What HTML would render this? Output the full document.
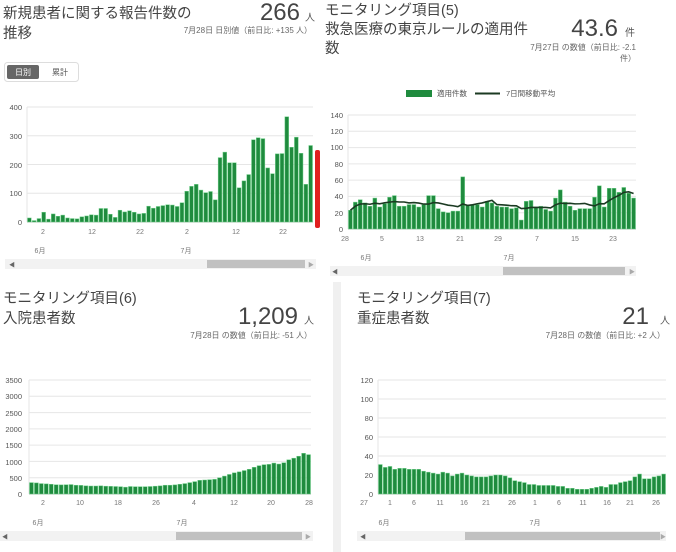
<!DOCTYPE html>
<html><head><meta charset="utf-8"><style>
html,body{margin:0;padding:0;background:#fff;width:676px;height:552px;overflow:hidden}
svg{display:block}
text{font-family:"Liberation Sans","Noto Sans CJK JP",sans-serif}
.t{font-size:14.5px;fill:#444}
.big{font-size:24px;fill:#444}
.u{font-size:10px;fill:#555}
.s{font-size:8px;fill:#666}
.ax{font-size:7.5px;fill:#555}
.xl{font-size:7px;fill:#777}
</style></head><body>
<svg id="s" width="676" height="552" viewBox="0 0 676 552">
<rect x="333" y="282" width="8" height="270" fill="#f0f0f0"/>
<!-- Panel 1 -->
<text class="t" x="3" y="18">新規患者に関する報告件数の</text>
<text class="t" x="3" y="38">推移</text>
<text class="big" x="300" y="20" text-anchor="end">266</text><text class="u" x="305" y="21">人</text>
<text class="s" x="312" y="33" text-anchor="end">7月28日 日別値（前日比: +135 人）</text>
<rect x="4.5" y="62.5" width="74" height="19" rx="3" fill="#fff" stroke="#ddd"/>
<rect x="7" y="65" width="32" height="14" rx="2" fill="#666"/>
<text x="23" y="75" font-size="8" fill="#fff" text-anchor="middle">日別</text>
<text x="60" y="75" font-size="8" fill="#555" text-anchor="middle">累計</text>
<text class="ax" x="22" y="110" text-anchor="end">400</text>
<text class="ax" x="22" y="139" text-anchor="end">300</text>
<text class="ax" x="22" y="168" text-anchor="end">200</text>
<text class="ax" x="22" y="196" text-anchor="end">100</text>
<text class="ax" x="22" y="225" text-anchor="end">0</text>
<g class="xl" text-anchor="middle"><text x="43" y="234">2</text><text x="92" y="234">12</text><text x="140" y="234">22</text><text x="187" y="234">2</text><text x="236" y="234">12</text><text x="283" y="234">22</text></g>
<text class="xl" x="40" y="253" text-anchor="middle">6月</text><text class="xl" x="186" y="253" text-anchor="middle">7月</text>
<rect x="5" y="259" width="311" height="10" fill="#f2f2f2"/><rect x="207" y="260" width="98" height="8" fill="#c1c1c1"/>
<text x="9" y="267" font-size="6" fill="#666">◀</text><text x="308" y="267" font-size="6" fill="#aaa">▶</text>
<rect x="315" y="150" width="5" height="78" rx="2" fill="#e02020"/>
<!-- Panel 2 -->
<text class="t" x="325" y="15">モニタリング項目(5)</text>
<text class="t" x="325" y="34">救急医療の東京ルールの適用件</text>
<text class="t" x="325" y="53">数</text>
<text class="big" x="618" y="36" text-anchor="end">43.6</text><text class="u" x="625" y="36">件</text>
<text class="s" x="636" y="50" text-anchor="end">7月27日 の数値（前日比: -2.1</text>
<text class="s" x="636" y="61" text-anchor="end">件）</text>
<rect x="406" y="90" width="26" height="7" fill="#1f8b3e"/>
<text x="437" y="96" font-size="7.5" fill="#555">適用件数</text>
<line x1="475" y1="93.5" x2="500" y2="93.5" stroke="#1b3a22" stroke-width="2"/>
<text x="506" y="96" font-size="7.5" fill="#555">7日間移動平均</text>
<g class="ax" text-anchor="end"><text x="343" y="118">140</text><text x="343" y="134">120</text><text x="343" y="150">100</text><text x="343" y="167">80</text><text x="343" y="183">60</text><text x="343" y="199">40</text><text x="343" y="216">20</text><text x="343" y="232">0</text></g>
<g class="xl" text-anchor="middle"><text x="345" y="241">28</text><text x="382" y="241">5</text><text x="420" y="241">13</text><text x="460" y="241">21</text><text x="498" y="241">29</text><text x="537" y="241">7</text><text x="575" y="241">15</text><text x="613" y="241">23</text></g>
<text class="xl" x="366" y="260" text-anchor="middle">6月</text><text class="xl" x="509" y="260" text-anchor="middle">7月</text>
<rect x="330" y="266" width="306" height="10" fill="#f2f2f2"/><rect x="503" y="267" width="122" height="8" fill="#c1c1c1"/>
<text x="332" y="274" font-size="6" fill="#666">◀</text><text x="629" y="274" font-size="6" fill="#aaa">▶</text>
<!-- Panel 3 -->
<text class="t" x="3" y="303">モニタリング項目(6)</text>
<text class="t" x="3" y="323">入院患者数</text>
<text class="big" x="298" y="324" text-anchor="end">1,209</text><text class="u" x="304" y="324">人</text>
<text class="s" x="312" y="338" text-anchor="end">7月28日 の数値（前日比: -51 人）</text>
<g class="ax" text-anchor="end"><text x="22" y="383">3500</text><text x="22" y="399">3000</text><text x="22" y="416">2500</text><text x="22" y="432">2000</text><text x="22" y="448">1500</text><text x="22" y="465">1000</text><text x="22" y="481">500</text><text x="22" y="497">0</text></g>
<g class="xl" text-anchor="middle"><text x="43" y="505">2</text><text x="80" y="505">10</text><text x="118" y="505">18</text><text x="156" y="505">26</text><text x="194" y="505">4</text><text x="234" y="505">12</text><text x="271" y="505">20</text><text x="309" y="505">28</text></g>
<text class="xl" x="38" y="525" text-anchor="middle">6月</text><text class="xl" x="182" y="525" text-anchor="middle">7月</text>
<rect x="0" y="531" width="313" height="10" fill="#f2f2f2"/><rect x="176" y="532" width="126" height="8" fill="#c1c1c1"/>
<text x="2" y="539" font-size="6" fill="#666">◀</text><text x="305" y="539" font-size="6" fill="#aaa">▶</text>
<!-- Panel 4 -->
<text class="t" x="357" y="303">モニタリング項目(7)</text>
<text class="t" x="357" y="323">重症患者数</text>
<text class="big" x="649" y="324" text-anchor="end">21</text><text class="u" x="660" y="324">人</text>
<text class="s" x="665" y="338" text-anchor="end">7月28日 の数値（前日比: +2 人）</text>
<g class="ax" text-anchor="end"><text x="373" y="383">120</text><text x="373" y="402">100</text><text x="373" y="421">80</text><text x="373" y="440">60</text><text x="373" y="459">40</text><text x="373" y="478">20</text><text x="373" y="497">0</text></g>
<g class="xl" text-anchor="middle"><text x="364" y="505">27</text><text x="390" y="505">1</text><text x="414" y="505">6</text><text x="440" y="505">11</text><text x="464" y="505">16</text><text x="486" y="505">21</text><text x="512" y="505">26</text><text x="535" y="505">1</text><text x="559" y="505">6</text><text x="583" y="505">11</text><text x="607" y="505">16</text><text x="630" y="505">21</text><text x="656" y="505">26</text></g>
<text class="xl" x="384" y="525" text-anchor="middle">6月</text><text class="xl" x="535" y="525" text-anchor="middle">7月</text>
<rect x="357" y="531" width="309" height="10" fill="#f2f2f2"/><rect x="465" y="532" width="195" height="8" fill="#c1c1c1"/>
<text x="360" y="539" font-size="6" fill="#666">◀</text><text x="660" y="539" font-size="6" fill="#aaa">▶</text>
</svg>
<script>
var S=document.getElementById('s'),NS='http://www.w3.org/2000/svg';
function el(n,a){var e=document.createElementNS(NS,n);for(var k in a)e.setAttribute(k,a[k]);S.appendChild(e);return e;}
function chart(x0,x1,yTop,y0,max,grids,vals,avg){
 for(var i=0;i<=grids;i++){var y=yTop+(y0-yTop)*i/grids;el('line',{x1:x0,x2:x1,y1:y,y2:y,stroke:i==grids?'#bbb':'#e6e6e6','stroke-width':1});}
 el('line',{x1:x0,x2:x0,y1:yTop,y2:y0,stroke:'#e6e6e6'});
 var n=vals.length,w=(x1-x0)/n;
 for(var i=0;i<n;i++){var h=vals[i]/max*(y0-yTop);
  el('rect',{x:x0+i*w+0.5,y:y0-h,width:w-1,height:h,fill:'#1f8b3e',stroke:'#6fd08a','stroke-width':0.5});}
 if(avg){var p='';for(var i=0;i<n;i++){var s=0,c=0;for(var j=Math.max(0,i-6);j<=i;j++){s+=vals[j];c++;}var a=s/c;p+=(i?'L':'M')+(x0+i*w+w/2)+','+(y0-a/max*(y0-yTop));}
  el('path',{d:p,fill:'none',stroke:'#1b3a22','stroke-width':1.6});}
}
chart(27,313,107,222,400,4,[14,5,12,34,10,28,20,24,14,12,11,18,21,25,24,47,47,27,16,41,35,39,34,28,30,55,48,54,57,60,59,54,67,107,124,131,111,102,106,77,224,243,206,206,119,143,165,286,293,290,188,168,237,238,366,260,295,239,131,266]);
chart(348,636,115,229,140,7,[23,33,36,32,28,38,27,31,39,41,28,28,30,30,27,30,41,41,25,21,20,22,22,64,29,30,30,27,34,32,28,27,27,25,26,11,34,35,27,28,24,22,38,48,33,28,23,25,25,25,39,53,27,50,50,45,51,44,38],true);
chart(29,311,380,494,3500,7,[350,340,320,310,300,285,280,285,290,270,265,250,245,245,250,240,235,230,225,210,230,225,225,225,230,240,250,270,270,280,300,320,350,380,420,430,440,450,500,550,600,650,680,720,760,820,870,900,910,950,920,960,1050,1100,1160,1250,1209]);
chart(378,666,380,494,120,6,[31,28,29,26,27,27,26,26,26,24,23,22,21,23,22,19,21,22,20,19,18,18,18,19,20,20,19,17,14,13,12,10,10,9,9,9,9,8,8,6,6,5,5,5,6,7,8,7,10,10,12,13,14,18,21,16,16,18,19,21]);
</script>
</body></html>
